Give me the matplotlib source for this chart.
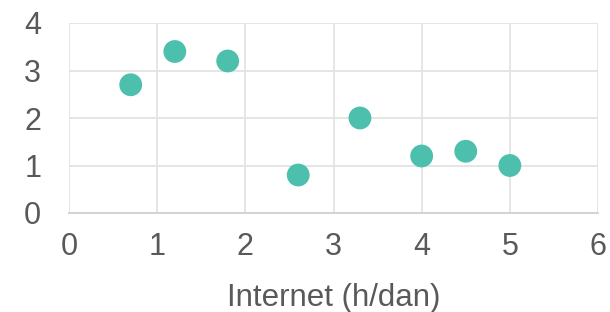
import matplotlib
matplotlib.use("Agg")
import matplotlib.pyplot as plt

x_vals = [0.7, 1.2, 1.8, 2.6, 3.3, 4.0, 4.5, 5.0]
y_vals = [2.7, 3.4, 3.2, 0.8, 2.0, 1.2, 1.3, 1.0]
x_ticks = [0, 1, 2, 3, 4, 5, 6]
y_ticks = [0, 1, 2, 3, 4]
x_label = "Internet (h/dan)"

plt.rcParams['font.family'] = ['Liberation Sans', 'DejaVu Sans']
fig = plt.figure(figsize=(6.10, 3.12), dpi=100)
ax = fig.add_axes([69/610, 1-213/312, (598-69)/610, (213-23)/312])
ax.scatter(x_vals, y_vals, s=270, color='#4DC0AD', edgecolors='none', zorder=3)
ax.set_xlim(0, 6)
ax.set_ylim(0, 4)
ax.set_xticks(x_ticks)
ax.set_yticks(y_ticks)
ax.grid(True, color='#E3E3E3', linewidth=1.3)
for s in ax.spines.values():
    s.set_visible(False)
ax.spines['bottom'].set_visible(True)
ax.spines['bottom'].set_color('#D0D0D0')
ax.spines['bottom'].set_linewidth(1.3)
ax.tick_params(length=0, labelsize=22, colors='#595959', pad=14)
ax.tick_params(axis='y', pad=20)
ax.set_xlabel(x_label, fontsize=22.5, color='#595959', labelpad=15)
fig.savefig("out.png", dpi=100)
